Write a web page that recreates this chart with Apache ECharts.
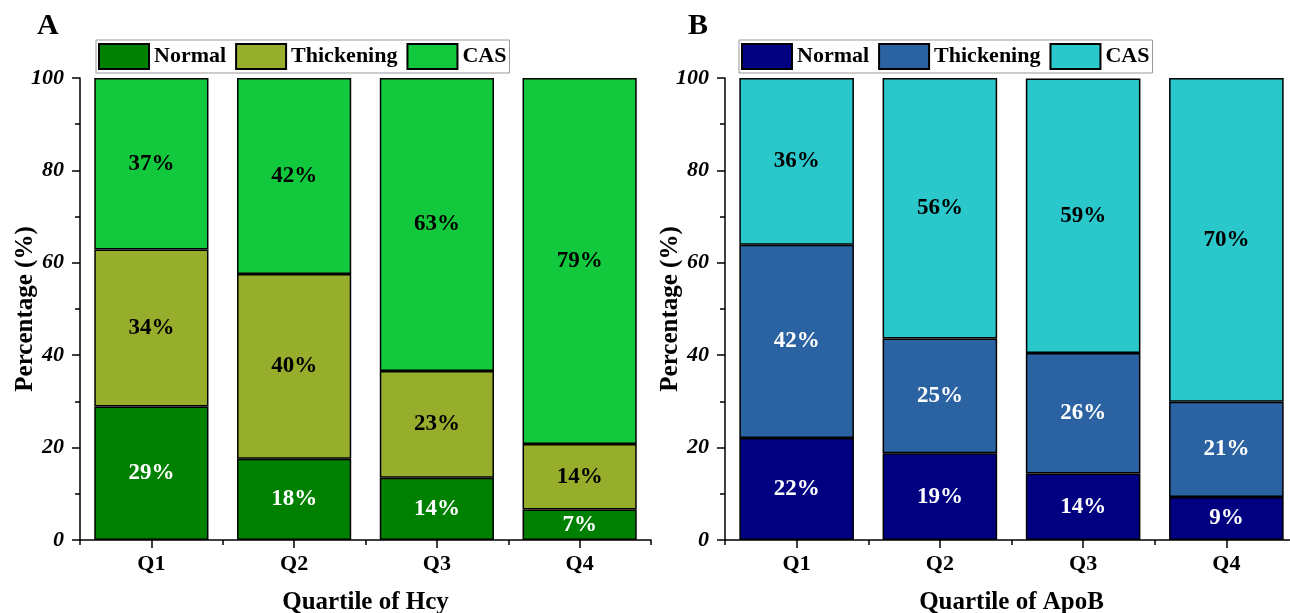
<!DOCTYPE html>
<html>
<head>
<meta charset="utf-8">
<script src="https://cdn.jsdelivr.net/npm/echarts@6/dist/echarts.min.js"></script>
<style>html,body{margin:0;padding:0;background:#fff}#c{width:1290px;height:613px}</style>
</head>
<body>
<div id="c"></div>
<script>
const categories = ['Q1', 'Q2', 'Q3', 'Q4'];
const seriesNames = ['Normal', 'Thickening', 'CAS'];
const hcyNormal = [28.9, 17.6, 13.5, 6.6];
const hcyThickening = [34.0, 40.0, 23.1, 14.2];
const hcyCAS = [37.1, 42.4, 63.4, 79.2];
const apobNormal = [22.1, 18.8, 14.4, 9.3];
const apobThickening = [41.8, 24.8, 26.1, 20.6];
const apobCAS = [36.1, 56.4, 59.4, 70.1];
const yTicks = [0, 20, 40, 60, 80, 100];

const FONT = '"Liberation Serif", "Times New Roman", serif';
const colorsA = ['#008000', '#97AE2D', '#12C93D'];
const colorsB = ['#000080', '#2B63A2', '#2AC7CB'];
const labelColorsA = ['#fff', '#000', '#000'];
const labelColorsB = ['#fff', '#fff', '#000'];

function xAxes(gridIndex, name) {
  return [
    {
      type: 'category', gridIndex, data: categories, position: 'bottom',
      name, nameLocation: 'middle', nameGap: 50, nameMoveOverlap: false,
      nameTextStyle: {fontFamily: FONT, fontWeight: 'bold', fontSize: 25, color: '#000'},
      axisLine: {show: true, lineStyle: {color: '#000', width: 1.5}},
      axisTick: {show: true, alignWithLabel: true, length: 8, lineStyle: {color: '#000', width: 1.5}},
      axisLabel: {fontFamily: FONT, fontWeight: 'bold', fontSize: 22, color: '#000', margin: 13},
      splitLine: {show: false}
    },
    {
      type: 'category', gridIndex, data: categories, position: 'bottom', offset: 0,
      axisLine: {show: false},
      axisTick: {show: true, alignWithLabel: false, length: 5, lineStyle: {color: '#000', width: 1.5}},
      axisLabel: {show: false},
      splitLine: {show: false}
    }
  ];
}

function yAxis(gridIndex) {
  return {
    type: 'value', gridIndex, min: yTicks[0], max: yTicks[yTicks.length - 1], interval: 20,
    name: 'Percentage (%)', nameLocation: 'middle', nameGap: 42, nameMoveOverlap: false,
    nameTextStyle: {fontFamily: FONT, fontWeight: 'bold', fontSize: 25, color: '#000'},
    axisLine: {show: true, lineStyle: {color: '#000', width: 1.5}},
    axisTick: {show: true, length: 8, lineStyle: {color: '#000', width: 1.5}},
    minorTick: {show: true, splitNumber: 2, length: 5, lineStyle: {color: '#000', width: 1.5}},
    axisLabel: {fontFamily: FONT, fontWeight: 'bold', fontStyle: 'italic', fontSize: 22, color: '#000', margin: 16},
    splitLine: {show: false}
  };
}

function makeSeries(prefix, datas, colors, labelColors, idx) {
  return datas.map((d, i) => ({
    name: prefix + seriesNames[i],
    type: 'bar', stack: prefix, xAxisIndex: idx * 2, yAxisIndex: idx,
    data: d, barCategoryGap: '20%',
    itemStyle: {color: colors[i], borderColor: '#000', borderWidth: 1.5},
    label: {
      show: true, position: 'inside',
      formatter: p => Math.round(p.value) + '%',
      fontFamily: FONT, fontWeight: 'bold', fontSize: 23, color: labelColors[i]
    },
    emphasis: {disabled: true}
  }));
}

function legend(prefix, left) {
  return {
    left, top: 40, orient: 'horizontal',
    data: seriesNames.map(n => prefix + n),
    formatter: n => n.slice(prefix.length),
    icon: 'rect', itemWidth: 50, itemHeight: 25, itemGap: 9,
    padding: [3, 3, 3, 2],
    borderColor: '#999', borderWidth: 1,
    selectedMode: false,
    textStyle: {fontFamily: FONT, fontWeight: 'bold', fontSize: 22, color: '#000'}
  };
}

const chart = echarts.init(document.getElementById('c'), null, {renderer: 'canvas'});
chart.setOption({
  backgroundColor: '#fff',
  animation: false,
  title: [
    {text: 'A', left: 37, top: 11, padding: 0, textStyle: {fontFamily: FONT, fontWeight: 'bold', fontSize: 30, color: '#000'}},
    {text: 'B', left: 688, top: 11, padding: 0, textStyle: {fontFamily: FONT, fontWeight: 'bold', fontSize: 30, color: '#000'}}
  ],
  legend: [legend('A-', 96), legend('B-', 739)],
  grid: [
    {left: 80, top: 78, width: 571, height: 462, outerBoundsMode: 'none', containLabel: false},
    {left: 725, top: 78, width: 573, height: 462, outerBoundsMode: 'none', containLabel: false}
  ],
  xAxis: [...xAxes(0, 'Quartile of Hcy'), ...xAxes(1, 'Quartile of ApoB')],
  yAxis: [yAxis(0), yAxis(1)],
  series: [
    ...makeSeries('A-', [hcyNormal, hcyThickening, hcyCAS], colorsA, labelColorsA, 0),
    ...makeSeries('B-', [apobNormal, apobThickening, apobCAS], colorsB, labelColorsB, 1)
  ]
});
</script>
</body>
</html>
